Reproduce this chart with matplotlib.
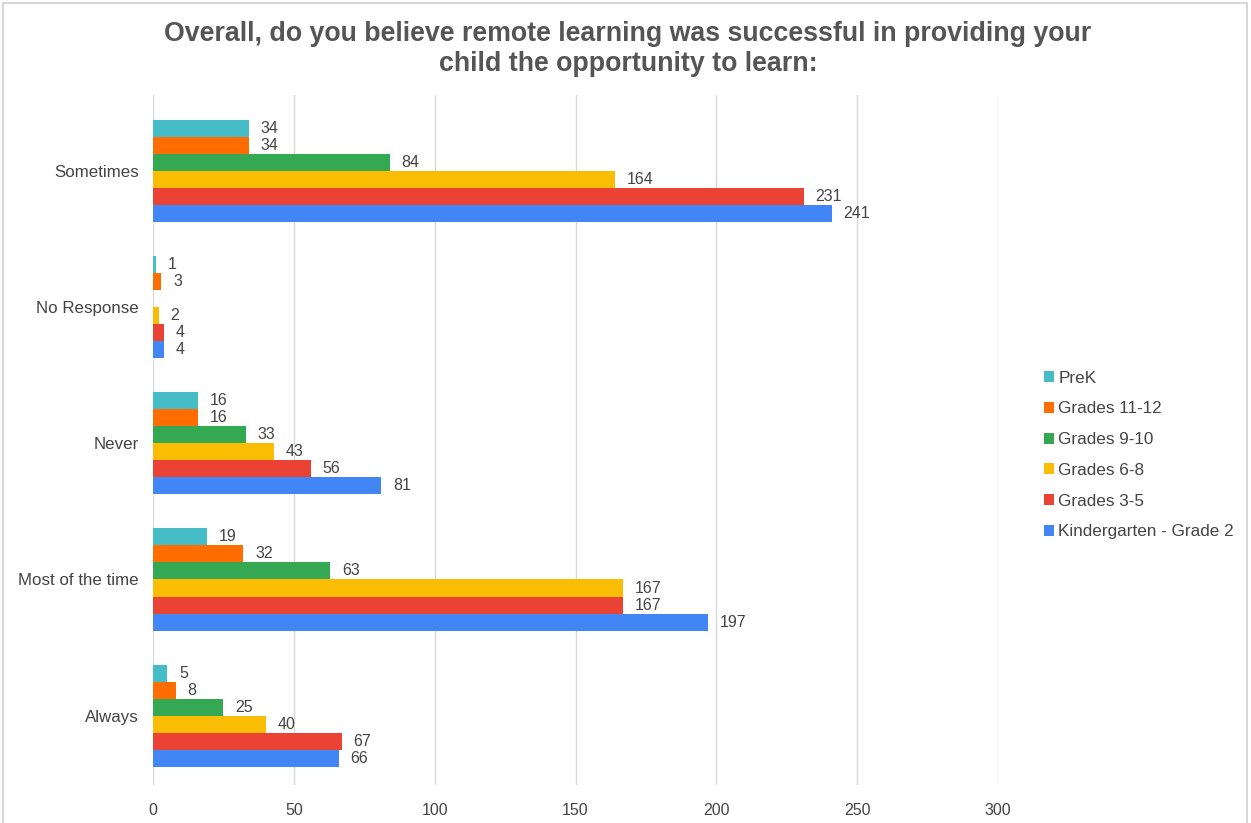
import matplotlib
matplotlib.use("Agg")
import matplotlib.pyplot as plt
from matplotlib.patches import Rectangle, Patch
import numpy as np

plt.rcParams['font.family'] = ['Liberation Sans', 'DejaVu Sans']

categories = ["Sometimes", "No Response", "Never", "Most of the time", "Always"]
series_names = ["PreK", "Grades 11-12", "Grades 9-10", "Grades 6-8",
                "Grades 3-5", "Kindergarten - Grade 2"]
prek = [34, 1, 16, 19, 5]
grades_11_12 = [34, 3, 16, 32, 8]
grades_9_10 = [84, None, 33, 63, 25]
grades_6_8 = [164, 2, 43, 167, 40]
grades_3_5 = [231, 4, 56, 167, 67]
k_grade_2 = [241, 4, 81, 197, 66]
xticks = [0, 50, 100, 150, 200, 250, 300]

colors = ["#46BDC6", "#FF6D01", "#34A853", "#FBBC04", "#EA4335", "#4285F4"]
series = [prek, grades_11_12, grades_9_10, grades_6_8, grades_3_5, k_grade_2]

W, H = 1251, 823
fig = plt.figure(figsize=(W / 100, H / 100), dpi=100)
fig.patch.set_facecolor("white")

ax = fig.add_axes([153 / W, 1 - 785 / H, (998 - 153) / W, (785 - 95) / H])

text_color = "#444444"
n = len(series)
bar_h = 0.125
centers = np.arange(len(categories))[::-1]  # Sometimes at the top

for i, (vals, col, name) in enumerate(zip(series, colors, series_names)):
    offset = (i - (n - 1) / 2) * bar_h
    ys = centers - offset  # first series at the top of each group
    for y, v in zip(ys, vals):
        if v is None:
            continue
        ax.barh(y, v, height=bar_h, color=col, edgecolor="none", zorder=3)
        ax.text(v + 4.2, y, str(v), va="center", ha="left",
                fontsize=11.5, color=text_color, zorder=4)

ax.set_xlim(0, 300)
ax.set_ylim(-0.51, 4.56)
ax.set_xticks(xticks)
ax.set_xticklabels([str(t) for t in xticks])
ax.set_yticks(centers)
ax.set_yticklabels(categories)
ax.tick_params(axis="both", length=0, colors=text_color)
ax.tick_params(axis="y", pad=10, labelsize=12.2)
ax.tick_params(axis="x", pad=13, labelsize=11.5)
ax.grid(axis="x", color="#d9d9d9", linewidth=1, zorder=0)
for s in ax.spines.values():
    s.set_visible(False)

# Title
title_color = "#555555"
fig.text(628 / W, 1 - 34 / H, "Overall, do you believe remote learning was successful in providing your",
         ha="center", va="center", fontsize=19.3, fontweight="bold", color=title_color)
fig.text(628 / W, 1 - 64 / H, "child the opportunity to learn:",
         ha="center", va="center", fontsize=19.3, fontweight="bold", color=title_color)

# Legend
handles = [Patch(facecolor=c, edgecolor="none") for c in colors]
leg = fig.legend(handles, series_names, loc="center left",
                 bbox_to_anchor=(1037 / W, 1 - 455 / H), frameon=False,
                 fontsize=12.3, labelcolor=text_color, handlelength=0.6,
                 handleheight=0.6, handletextpad=0.25, labelspacing=0.92,
                 borderaxespad=0)

# Outer frame
fig.add_artist(Rectangle((3 / W, -0.01), (1247 - 3) / W, 1 - 3 / H + 0.01,
                         transform=fig.transFigure, fill=False,
                         edgecolor="#d0d0d0", linewidth=1.2))

fig.savefig("out.png", dpi=100, facecolor="white")
